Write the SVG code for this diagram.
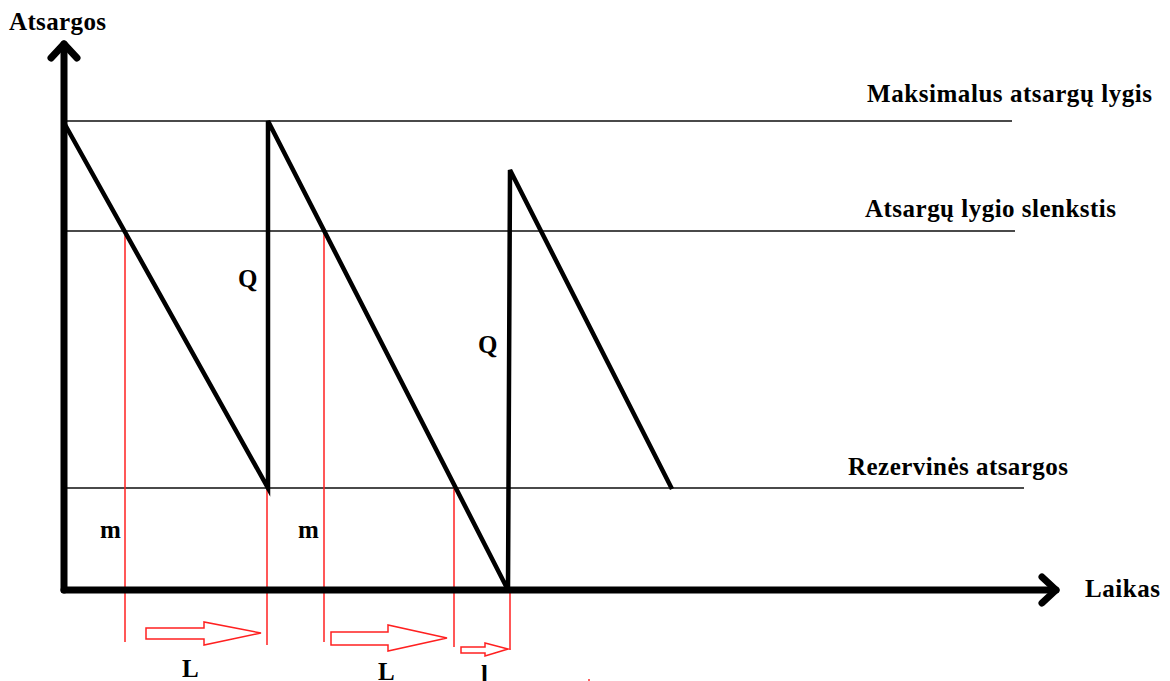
<svg xmlns="http://www.w3.org/2000/svg" width="1170" height="681" viewBox="0 0 1170 681">
<style>
text{font-family:"Liberation Serif","Times New Roman",serif;font-weight:bold;font-size:25px;fill:#000}
.lvl{stroke:#4a4a4a;stroke-width:2;fill:none}
.saw{stroke:#000;stroke-width:4.5;fill:none;stroke-linejoin:miter}
.axis{stroke:#000;stroke-width:7;fill:none;stroke-linecap:round;stroke-linejoin:round}
.red{stroke:#ff2020;stroke-width:1.5;fill:none}
.blk{stroke:#ff2020;stroke-width:1.5;fill:#fff}
</style>
<rect width="1170" height="681" fill="#fff"/>
<g id="levels">
<line class="lvl" x1="63" y1="121" x2="1012" y2="121"/>
<line class="lvl" x1="63" y1="231" x2="1015" y2="231"/>
<line class="lvl" x1="63" y1="488" x2="1024" y2="488"/>
</g>
<g id="markers">
<line class="red" x1="125" y1="231" x2="125" y2="642"/>
<line class="red" x1="267" y1="488" x2="267" y2="645"/>
<line class="red" x1="324" y1="231" x2="324" y2="642"/>
<line class="red" x1="454" y1="488" x2="454" y2="647"/>
<line class="red" x1="510" y1="590" x2="510" y2="650"/>
<polygon class="blk" points="146,628 204,628 204,622 261,633 204,645 204,639 146,639"/>
<polygon class="blk" points="331,632 388,632 388,625 447,638 388,651 388,645 331,645"/>
<polygon class="blk" points="461,647 485,647 485,643 508,649 485,656 485,653 461,653"/>
<rect x="588" y="679" width="2" height="2" fill="#ff6060"/>
</g>
<g id="sawtooth">
<polyline class="saw" points="63,121 268,488 268,121 508,590 510,170 672,489"/>
</g>
<g id="axes">
<polyline class="axis" points="64,590 64,44"/>
<polyline class="axis" points="51,58 64,44 77,58"/>
<polyline class="axis" points="64,590 1056,590"/>
<polyline class="axis" points="1042,577 1056,590 1042,603"/>
</g>
<g id="labels">
<text x="9" y="30" textLength="97" lengthAdjust="spacing">Atsargos</text>
<text x="867" y="102" textLength="285" lengthAdjust="spacing">Maksimalus atsargų lygis</text>
<text x="865" y="217" textLength="251" lengthAdjust="spacing">Atsargų lygio slenkstis</text>
<text x="848" y="475" textLength="220" lengthAdjust="spacing">Rezervinės atsargos</text>
<text x="1085" y="597" textLength="75" lengthAdjust="spacing">Laikas</text>
<text x="238" y="287">Q</text>
<text x="478" y="353">Q</text>
<text x="100" y="538">m</text>
<text x="298" y="538">m</text>
<text x="182" y="677">L</text>
<text x="378" y="680">L</text>
<text x="481" y="683">l</text>
</g>
</svg>
